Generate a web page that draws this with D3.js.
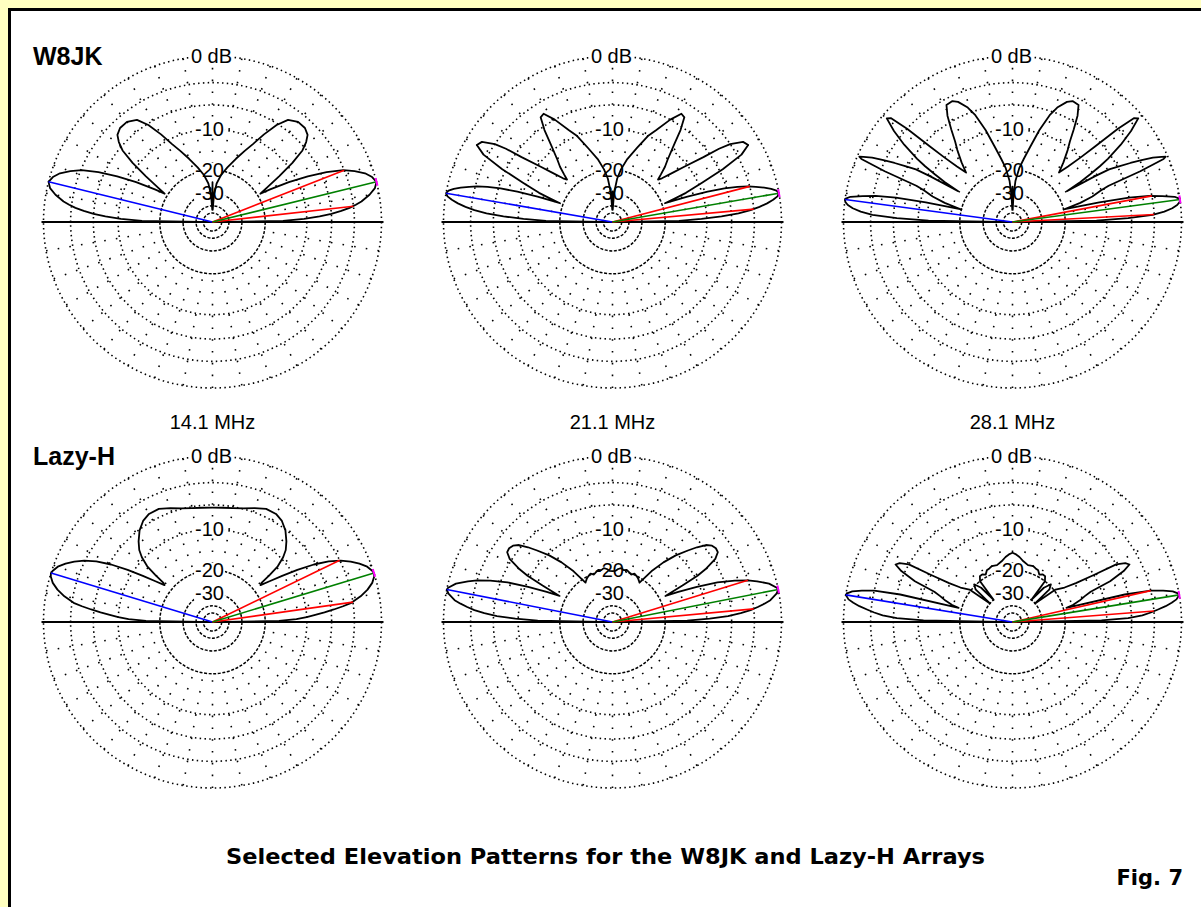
<!DOCTYPE html>
<html><head><meta charset="utf-8">
<script src="https://cdn.jsdelivr.net/npm/d3@7"></script>
<style>body{margin:0;background:#fff}svg{display:block}</style>
</head><body>
<svg id="c" width="1201" height="907"></svg>
<script>
// ---------- DATA ----------
const rowLabels = ["W8JK", "Lazy-H"];
const freqLabels = ["14.1 MHz", "21.1 MHz", "28.1 MHz"];
const ringLevels = [0, -3, -6, -10];          // fine dotted rings (dB)
const innerRingLevels = [-20, -30, -40, -50];  // dense dashed rings (dB)
const labelLevels = [0, -10, -20, -30];
const labelTexts = ["0 dB", "-10", "-20", "-30"];
const title = "Selected Elevation Patterns for the W8JK and Lazy-H Arrays";
const figLabel = "Fig. 7";

// half patterns [elevation deg, dB]; right half, mirrored for left half
const w8jk14 = [[0,-45],[1,-15],[2,-10.5],[3,-7.8],[4,-6],[5,-4.6],[6,-3.5],[7,-2.7],[8,-2],[10,-1],[12,-0.3],[14,0],[16,-0.3],[18,-0.9],[20,-1.9],[22,-3.1],[24,-5.2],[26,-8],[28,-11.5],[30,-16],[31,-19],[33,-16],[35,-12.5],[37,-9],[39,-6.5],[41,-5.3],[43,-4.5],[46,-4.1],[50,-4.1],[54,-4.7],[57,-6.2],[60,-8.5],[63,-11],[66,-13],[70,-15.5],[75,-18.5],[80,-21.5],[84,-25],[87,-31],[89,-45],[90,-24.5]];
const w8jk21 = [[0,-45],[1,-16],[2,-11],[3,-7.5],[4,-5],[5,-3.4],[6,-2.3],[7,-1.4],[8,-0.7],[9,-0.2],[10,0],[11,-0.2],[12,-0.7],[13,-1.4],[14,-2.3],[15,-3.2],[16,-4.5],[17,-6.3],[18,-9],[19,-13],[20,-19],[21,-16],[22,-13],[24,-9.5],[26,-5.5],[28,-2.5],[30,-1.3],[32,-1.6],[34,-3],[35,-4.5],[36,-7],[38,-10.5],[40,-13.5],[42,-16],[43.5,-17],[45,-15.5],[47,-13.5],[49,-12],[52,-9],[54,-6.5],[56,-4.7],[58,-4.5],[61,-6],[65,-8.5],[68,-10],[72,-13],[77,-16.2],[81,-19.5],[84,-23],[87,-30],[89,-45],[90,-29]];
const w8jk28 = [[0,-45],[1,-12],[2,-6.5],[3,-3.2],[4,-1.8],[5,-0.9],[6,-0.35],[7,-0.05],[8,0],[9,-0.5],[10,-1.8],[11,-3.3],[12,-6],[13,-11],[14,-20],[16,-15],[18,-12],[20,-10],[21,-8.5],[22,-3.5],[23,-0.5],[23.5,-0.2],[24,-0.6],[25,-1.5],[26,-2.8],[27,-4.2],[28,-5.8],[29,-7.3],[29.5,-10],[30,-17],[31,-13],[32,-10.5],[33,-8.3],[34,-6.6],[36,-4],[38,-2],[40,-0.5],[41,-0.8],[42,-3],[43,-7],[44,-10],[45.5,-13],[47.3,-15.5],[50,-13],[53,-10.5],[55,-9],[57,-7],[59,-5],[61,-3.7],[64,-3.6],[66,-4],[69,-5.2],[71,-6.5],[74,-9.5],[77,-13.2],[80,-16.3],[83,-19.2],[86,-24],[88,-32],[89,-45],[90,-26.5]];
const lazy14 = [[0,-45],[1,-16],[2,-12],[3,-10],[4,-8.5],[5,-7],[6,-5.6],[7,-4.3],[8,-3.2],[10,-2],[12,-1.1],[14,-0.45],[16,-0.08],[17,0],[18,-0.08],[20,-0.45],[22,-1.1],[24,-1.9],[26,-2.9],[28,-4.3],[30,-6.3],[32,-9],[34,-12],[36,-15],[38,-17.5],[39,-17],[40,-14],[41,-11.5],[43,-9.6],[45,-8.4],[48,-7.3],[52,-6.1],[56,-5.3],[60,-4.9],[65,-4.9],[70,-5.4],[75,-5.9],[80,-6.2],[85,-6.35],[90,-6.4]];
const lazy21 = [[0,-45],[1,-14],[2,-9.5],[3,-6.5],[4,-4.7],[5,-3.4],[6,-2.5],[7,-1.7],[8,-1],[10,-0.25],[11.3,0],[12,-0.1],[14,-0.8],[16,-2],[17.4,-3],[19,-4.6],[21,-7],[23,-10.5],[25,-14.5],[26.6,-18],[28,-13],[29,-9.5],[30,-7.8],[32,-5.7],[34,-4.9],[36,-4.8],[38,-5],[40,-5.6],[42,-6.8],[44,-8.2],[47,-10.3],[50,-13],[53,-16.5],[56,-21.5],[58,-21],[60,-20.5],[63,-20],[66,-19.6],[69,-20.3],[72,-19.8],[75,-19.3],[78,-19.6],[81,-19.1],[84,-19.5],[87,-20.2],[90,-20.3]];
const lazy28 = [[0,-45],[1,-11],[2,-6.5],[3,-4.5],[4,-3.4],[5,-2.5],[6,-1.6],[7,-0.9],[8,-0.35],[9.4,0],[10,-0.1],[11,-0.6],[12,-1.6],[13,-3],[14,-6.5],[15,-19],[16,-17],[18,-15],[20,-13.5],[21.5,-12],[23,-8],[25,-5.5],[26.6,-4.4],[28,-4.8],[29.5,-6],[30.5,-10],[32,-14],[34,-17],[37.5,-19.5],[40,-30],[42,-21],[45,-19.5],[48,-22],[50,-30],[52,-20],[55,-18.7],[58,-18.6],[61,-19.2],[64,-18.2],[67,-18],[70,-17.6],[75,-17.8],[80,-17],[84,-16],[87,-15.4],[90,-15]];

// main-lobe peak and -3 dB beamwidth angles (deg)
const w8jkPeak = [14, 10, 7.8];
const w8jkBwLow = [6.5, 5.3, 3.1];
const w8jkBwHigh = [21.8, 14.8, 10.8];
const lazyPeak = [17.2, 11.3, 9.4];
const lazyBwLow = [8.2, 5.4, 4.5];
const lazyBwHigh = [26.3, 17.4, 13];

const patterns = [[w8jk14, w8jk21, w8jk28], [lazy14, lazy21, lazy28]];
const peaks = [w8jkPeak, lazyPeak];
const bwLows = [w8jkBwLow, lazyBwLow];
const bwHighs = [w8jkBwHigh, lazyBwHigh];

// ---------- LAYOUT ----------
const W = 1201, H = 907;
const colX = [212.5, 612.5, 1012.5];
const rowY = [222, 622];
const RX = 169, RY = 166;
const FONT = "'Liberation Sans', Arial, Helvetica, sans-serif";
const BOLDFONT = "'DejaVu Sans', Verdana, sans-serif";

const svg = d3.select("#c");
svg.append("rect").attr("width", W).attr("height", H).attr("fill", "#FFFFC0");
svg.append("rect").attr("x", 8).attr("y", 8).attr("width", W - 8).attr("height", H - 8).attr("fill", "#000");
svg.append("rect").attr("x", 11).attr("y", 11).attr("width", W - 11).attr("height", H - 11).attr("fill", "#fff");

// ARRL log-periodic radial scale: each 2 dB => factor 0.89
const arrl = d3.scaleLinear().domain([0, 1]).range([0, 1]);
const rNorm = dB => arrl(Math.pow(0.89, -dB / 2));
const ang = d3.scaleLinear().domain([0, 180]).range([0, Math.PI]);
const sx = d3.scaleLinear().domain([-1, 1]).range([-RX, RX]);
const sy = d3.scaleLinear().domain([-1, 1]).range([RY, -RY]);
const pt = (deg, dB) => { const r = rNorm(dB), a = ang(deg); return [sx(r * Math.cos(a)), sy(r * Math.sin(a))]; };

function drawChart(g, half, peak, lo, hi) {
  // dotted rings
  ringLevels.forEach(l => {
    g.append("ellipse").attr("rx", sx(rNorm(l))).attr("ry", -sy(rNorm(l)))
      .attr("fill", "none").attr("stroke", "#000").attr("stroke-width", 1.6)
      .attr("stroke-dasharray", "1.5 3.3");
  });
  // spokes every 10 deg
  d3.range(0, 360, 10).forEach(d => {
    const a = ang(d);
    const r0 = rNorm(0), r1 = rNorm(-20);
    g.append("line")
      .attr("x1", sx(r0 * Math.cos(a))).attr("y1", sy(r0 * Math.sin(a)))
      .attr("x2", sx(r1 * Math.cos(a))).attr("y2", sy(r1 * Math.sin(a)))
      .attr("stroke", "#000").attr("stroke-width", 1.6).attr("stroke-dasharray", "1.6 10.2");
  });
  innerRingLevels.forEach(l => {
    g.append("ellipse").attr("rx", sx(rNorm(l))).attr("ry", -sy(rNorm(l)))
      .attr("fill", "none").attr("stroke", "#000").attr("stroke-width", 1.5)
      .attr("stroke-dasharray", "3 1.6");
  });
  // labels with white background
  labelLevels.forEach((l, i) => {
    const y = sy(rNorm(l));
    const t = g.append("text").attr("x", i === 0 ? -1 : -3).attr("y", y + 7)
      .attr("text-anchor", "middle").attr("font-family", FONT).attr("font-size", 20)
      .attr("fill", "#000").text(labelTexts[i]);
    const b = t.node().getBBox();
    g.insert("rect", () => t.node()).attr("x", b.x - 1).attr("y", y - 7.5)
      .attr("width", b.width + 2).attr("height", 15).attr("fill", "#fff");
  });
  // ground line
  g.append("line").attr("x1", -RX - 2).attr("x2", RX + 2).attr("y1", 0).attr("y2", 0)
    .attr("stroke", "#000").attr("stroke-width", 1.8);
  // pattern (right half + mirrored left half)
  const full = half.concat(half.slice().reverse().map(([a, v]) => [180 - a, v]));
  const line = d3.line().x(d => pt(d[0], d[1])[0]).y(d => pt(d[0], d[1])[1]);
  g.append("path").attr("d", line(full)).attr("fill", "none")
    .attr("stroke", "#000").attr("stroke-width", 1.8).attr("stroke-linejoin", "round");
  // marker lines
  const ray = (deg, dB, col) => {
    const p = pt(deg, dB);
    g.append("line").attr("x1", 0).attr("y1", 0).attr("x2", p[0]).attr("y2", p[1])
      .attr("stroke", col).attr("stroke-width", 1.6);
  };
  ray(180 - peak, 0, "#0000FF");
  ray(lo, -3, "#FF0000");
  ray(hi, -3, "#FF0000");
  ray(peak, 0, "#008000");
  // magenta tick at peak
  const a = ang(peak), p = pt(peak, 0);
  const tx = -Math.sin(a) * RX / RY, ty = -Math.cos(a);
  g.append("line").attr("x1", p[0] - tx * 4).attr("y1", p[1] - ty * 4)
    .attr("x2", p[0] + tx * 4).attr("y2", p[1] + ty * 4)
    .attr("stroke", "#FF00FF").attr("stroke-width", 2);
}

rowY.forEach((cy, r) => {
  colX.forEach((cx, c) => {
    const g = svg.append("g").attr("transform", `translate(${cx},${cy})`);
    drawChart(g, patterns[r][c], peaks[r][c], bwLows[r][c], bwHighs[r][c]);
  });
  svg.append("text").attr("x", 33).attr("y", cy - 157).attr("font-family", FONT)
    .attr("font-size", 25).attr("font-weight", "bold").attr("fill", "#000").text(rowLabels[r]);
});

freqLabels.forEach((f, c) => {
  svg.append("text").attr("x", colX[c]).attr("y", 429).attr("text-anchor", "middle")
    .attr("font-family", FONT).attr("font-size", 20).attr("fill", "#000").text(f);
});

svg.append("text").attr("x", 226).attr("y", 864).attr("font-family", BOLDFONT)
  .attr("font-size", 20.5).attr("font-weight", "bold").attr("fill", "#000")
  .attr("textLength", 759).attr("lengthAdjust", "spacingAndGlyphs").text(title);
svg.append("text").attr("x", 1183).attr("y", 885).attr("text-anchor", "end").attr("font-family", BOLDFONT)
  .attr("font-size", 21).attr("font-weight", "bold").attr("fill", "#000").text(figLabel);
</script>
</body></html>
